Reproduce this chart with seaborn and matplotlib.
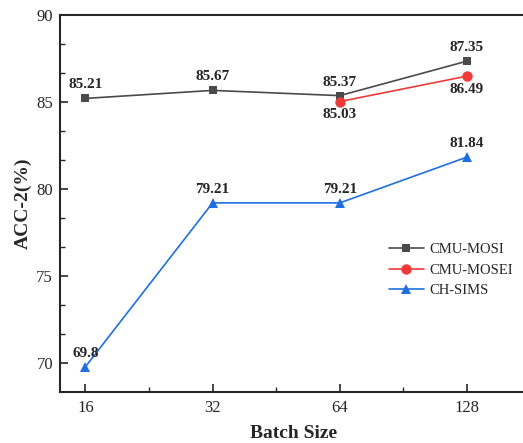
import matplotlib
matplotlib.use("Agg")
import matplotlib.pyplot as plt
from matplotlib.ticker import AutoMinorLocator, MultipleLocator
import seaborn as sns
import pandas as pd

batch_sizes = ["16", "32", "64", "128"]
mosi = [85.21, 85.67, 85.37, 87.35]
mosei_batches = ["64", "128"]
mosei = [85.03, 86.49]
sims = [69.8, 79.21, 79.21, 81.84]

sns.set_style("ticks")
plt.rcParams["font.family"] = ["Liberation Serif", "DejaVu Serif"]

pos = {b: i for i, b in enumerate(batch_sizes)}
df = pd.concat([
    pd.DataFrame({"x": [pos[b] for b in batch_sizes], "acc": mosi, "dataset": "CMU-MOSI"}),
    pd.DataFrame({"x": [pos[b] for b in mosei_batches], "acc": mosei, "dataset": "CMU-MOSEI"}),
    pd.DataFrame({"x": [pos[b] for b in batch_sizes], "acc": sims, "dataset": "CH-SIMS"}),
], ignore_index=True)

palette = {"CMU-MOSI": "#4a4a4a", "CMU-MOSEI": "#f03a3a", "CH-SIMS": "#1f6fe0"}
markers = {"CMU-MOSI": "s", "CMU-MOSEI": "o", "CH-SIMS": "^"}
msizes = {"CMU-MOSI": 6, "CMU-MOSEI": 7.5, "CH-SIMS": 7.5}

fig = plt.figure(figsize=(5.23, 4.43), dpi=100)
ax = fig.add_axes([60 / 523, 1 - 392 / 443, 468 / 523, (392 - 15) / 443])

sns.lineplot(data=df, x="x", y="acc", hue="dataset", style="dataset",
             palette=palette, markers=markers, dashes=False,
             markeredgewidth=0, linewidth=1.2, ax=ax)
for line, name in zip(ax.get_lines(), ["CMU-MOSI", "CMU-MOSEI", "CH-SIMS"]):
    line.set_markersize(msizes[name])

ax.set_xlim(-0.2, 3.48)
ax.set_ylim(68.35, 90)
ax.set_xticks(range(len(batch_sizes)))
ax.set_xticklabels(batch_sizes)
ax.xaxis.set_minor_locator(MultipleLocator(0.5))
ax.yaxis.set_major_locator(MultipleLocator(5))
ax.yaxis.set_minor_locator(AutoMinorLocator(3))
ax.tick_params(axis="both", which="major", direction="in", length=6, width=1.2,
               labelsize=12, pad=6)
ax.tick_params(axis="y", which="major", pad=5)
ax.tick_params(axis="both", which="minor", direction="in", length=3.5, width=1.0)
for s in ax.spines.values():
    s.set_linewidth(1.5)

ax.set_xlabel("Batch Size", fontsize=14, fontweight="bold", labelpad=6)
ax.set_ylabel("ACC-2(%)", fontsize=14, fontweight="bold", labelpad=3)

lab = dict(fontsize=11, fontweight="bold", ha="center")
for i, v in enumerate(mosi):
    ax.annotate(f"{v:.2f}", (i, v), xytext=(0, 5), textcoords="offset points", va="bottom", **lab)
for b, v in zip(mosei_batches, mosei):
    ax.annotate(f"{v:.2f}", (pos[b], v), xytext=(0, -5), textcoords="offset points", va="top", **lab)
for i, v in enumerate(sims):
    ax.annotate(f"{v:g}" if v == 69.8 else f"{v:.2f}", (i, v), xytext=(0, 5),
                textcoords="offset points", va="bottom", **lab)

handles, labels = ax.get_legend_handles_labels()
for h, name in zip(handles, labels):
    h.set_markersize(msizes[name])
ax.legend(handles, labels, loc="upper left", bbox_to_anchor=(0.69, 0.41),
          frameon=False, fontsize=10.5, handlelength=2.4, handletextpad=0.4,
          labelspacing=0.5, borderaxespad=0)

fig.savefig("out.png", dpi=100)
